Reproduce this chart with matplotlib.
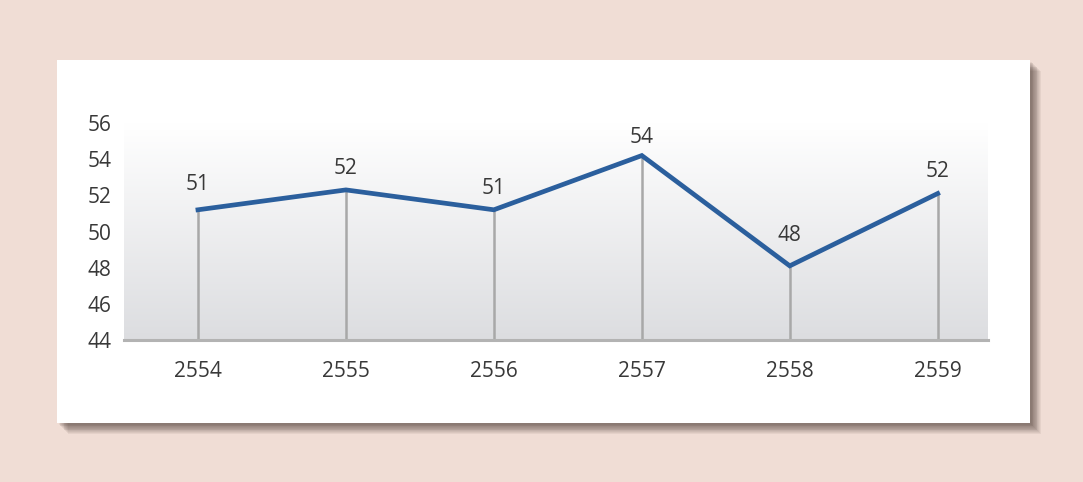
import matplotlib
matplotlib.use("Agg")
import matplotlib.pyplot as plt
import numpy as np
from matplotlib.patches import Rectangle

# Data
years = ["2554", "2555", "2556", "2557", "2558", "2559"]
values = [51.2, 52.3, 51.2, 54.2, 48.1, 52.1]
labels = ["51", "52", "51", "54", "48", "52"]
yticks = [44, 46, 48, 50, 52, 54, 56]

# label offsets above points (px)
label_off = [25, 21, 21, 18, 30, 22]

W, H = 1083, 482
BG = "#f0ddd5"
LINE = "#2b5f9d"
DROP = "#a8a8a8"
TEXT = "#383838"

plt.rcParams["font.family"] = ["Open Sans", "DejaVu Sans"]

fig = plt.figure(figsize=(W / 100, H / 100), dpi=100)
fig.patch.set_facecolor(BG)


def fx(px):
    return px / W


def fy(py):
    return 1 - py / H


# card shadow (soft, bottom-right)
card = (57, 60, 1030, 423)
for i in range(12, 0, -1):
    off = 1 + i * 0.8
    fig.patches.append(Rectangle(
        (fx(card[0] + off), fy(card[3] + off)),
        fx(card[2] - card[0]), (card[3] - card[1]) / H,
        transform=fig.transFigure, facecolor="#4a3a35",
        alpha=0.07, edgecolor="none", zorder=0))
fig.patches.append(Rectangle(
    (fx(card[0]), fy(card[3])), fx(card[2] - card[0]), (card[3] - card[1]) / H,
    transform=fig.transFigure, facecolor="white", edgecolor="none", zorder=1))

# plot area
left, right, top, bottom = 124, 988, 123, 340
ax = fig.add_axes([fx(left), fy(bottom), fx(right - left), (bottom - top) / H])
ax.set_zorder(2)
ax.patch.set_visible(False)

x = np.arange(len(years))
xlim = (-0.5, 5.34)

# gradient background, white at top to light grey at bottom
grad = np.linspace(0, 1, 256)[:, None, None]
top_c = np.array([1.0, 1.0, 1.0])
bot_c = np.array([0xdc, 0xdd, 0xe0]) / 255
img = top_c * (1 - grad) + bot_c * grad
ax.imshow(img, extent=[xlim[0], xlim[1], 44, 56], origin="upper",
          aspect="auto", zorder=0)
ax.set_xlim(*xlim)
ax.set_ylim(44, 56)

# drop lines
ax.vlines(x, 44, values, color=DROP, lw=1.8, zorder=2)
ax.axhline(44, color="#b3b3b3", lw=2.2, zorder=3, clip_on=False)

ax.plot(x, values, color=LINE, lw=3.4, zorder=4, solid_joinstyle="miter")

for xi, v, lab, off in zip(x, values, labels, label_off):
    ax.annotate(lab, (xi, v), xytext=(0, off * 0.72), textcoords="offset points",
                ha="center", va="center", fontsize=15, color=TEXT)

for s in ax.spines.values():
    s.set_visible(False)
ax.set_xticks(x)
ax.set_xticklabels(years)
ax.set_yticks(yticks)
ax.tick_params(length=0, labelsize=15, colors=TEXT)
ax.tick_params(axis="x", pad=15)
ax.tick_params(axis="y", pad=9)

fig.savefig("out.png", dpi=100, facecolor=BG)
